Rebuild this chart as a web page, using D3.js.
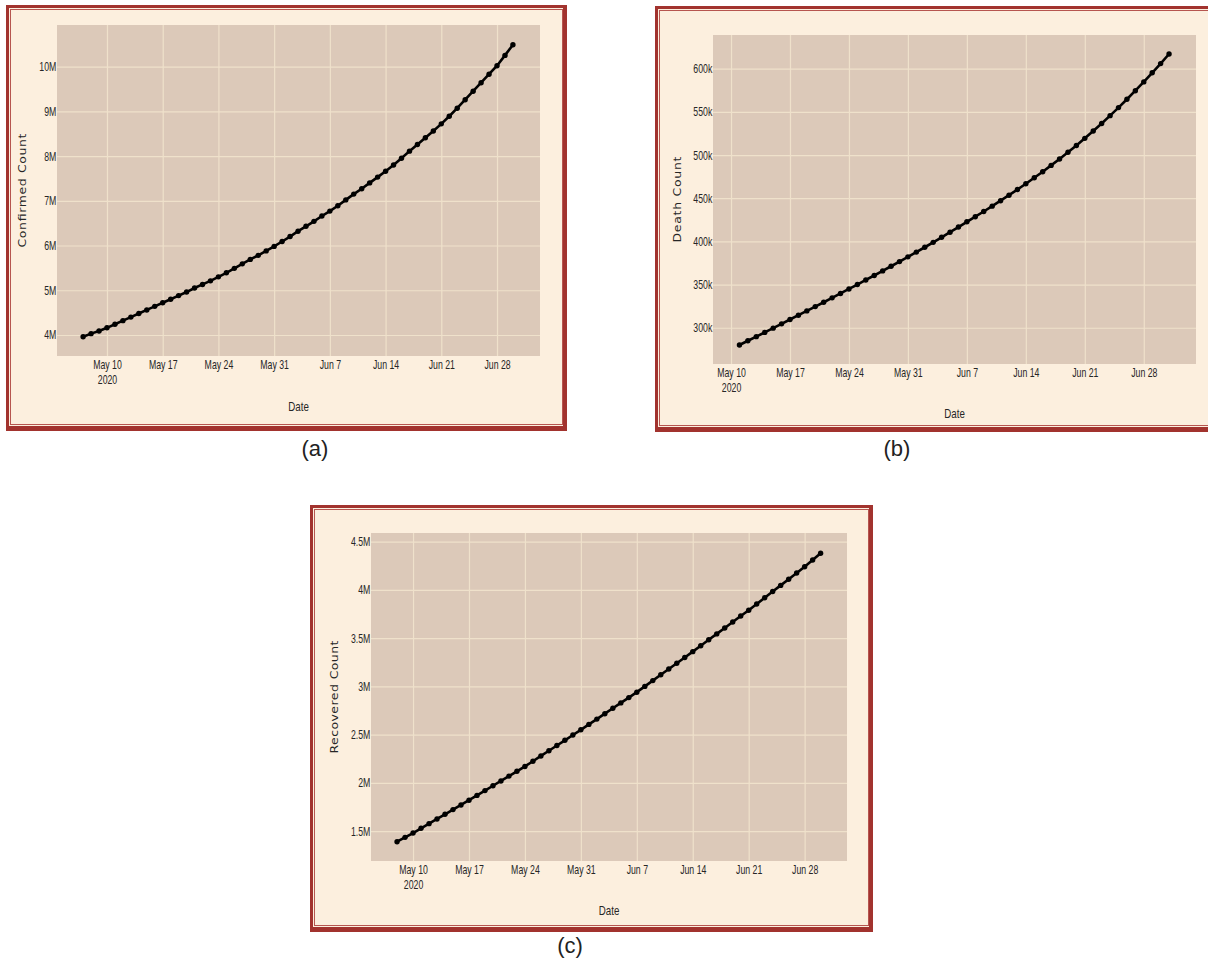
<!DOCTYPE html>
<html>
<head>
<meta charset="utf-8">
<script src="https://cdn.jsdelivr.net/npm/d3@7"></script>
<style>
  body { margin: 0; background: #ffffff; }
  .tick text { font-family: "Liberation Sans", Arial, sans-serif; font-size: 12.5px; fill: #262626; }
</style>
</head>
<body>
<script>
// Data

// (a) confirmed, millions, daily from May 7
const confirmedStart = "2020-05-07";
const confirmedValues = [
  3.96, 4.03, 4.09, 4.16, 4.24, 4.32, 4.40, 4.48, 4.56, 4.64, 4.72,
  4.80, 4.88, 4.96, 5.05, 5.13, 5.21, 5.30, 5.39, 5.49, 5.59, 5.69,
  5.78, 5.88, 5.98, 6.09, 6.20, 6.32, 6.43, 6.54, 6.66, 6.77, 6.89,
  7.02, 7.15, 7.27, 7.40, 7.53, 7.66, 7.80, 7.95, 8.11, 8.26, 8.41,
  8.56, 8.72, 8.89, 9.07, 9.26, 9.45, 9.64, 9.83, 10.02, 10.25, 10.49
];
const confirmedTicks = [4, 5, 6, 7, 8, 9, 10];

// (b) deaths, thousands, daily from May 11
const deathStart = "2020-05-11";
const deathValues = [
  280.0, 284.9, 289.7, 294.6, 299.5, 304.5, 309.5,
  314.5, 319.5, 324.5, 329.5, 334.6, 339.7, 344.9,
  350.0, 355.3, 360.5, 365.8, 371.2, 376.6, 382.1,
  387.6, 393.2, 398.9, 404.7, 410.6, 416.6, 422.7,
  428.6, 434.6, 440.8, 447.1, 453.5, 460.1, 466.8,
  473.7, 480.7, 488.0, 495.4, 503.2, 511.1, 519.3,
  527.8, 536.5, 545.6, 554.9, 564.6, 574.5, 584.7,
  595.2, 605.9, 617.0
];
const deathTicks = [300, 350, 400, 450, 500, 550, 600];

// (c) recovered, millions, daily from May 8
const recoveredStart = "2020-05-08";
const recoveredValues = [
  1.390, 1.435, 1.480, 1.529, 1.577, 1.626, 1.674, 1.723, 1.771, 1.820,
  1.870, 1.920, 1.970, 2.020, 2.070, 2.120, 2.170, 2.224, 2.279, 2.333,
  2.387, 2.441, 2.496, 2.550, 2.606, 2.661, 2.717, 2.773, 2.829, 2.884,
  2.940, 3.000, 3.060, 3.120, 3.180, 3.240, 3.300, 3.360, 3.421, 3.483,
  3.544, 3.606, 3.667, 3.729, 3.790, 3.854, 3.919, 3.983, 4.047, 4.111,
  4.176, 4.240, 4.310, 4.380
];
const recoveredTicks = [1.5, 2, 2.5, 3, 3.5, 4, 4.5];

const dateTicks = ["2020-05-10", "2020-05-17", "2020-05-24", "2020-05-31",
                   "2020-06-07", "2020-06-14", "2020-06-21", "2020-06-28"];

// Layout of the three panels
const panels = [
  { values: confirmedValues, start: confirmedStart, ticks: confirmedTicks, unit: 1e6,
    yDomain: [3.53, 10.93], padL: 3.28, padR: 3.4, yLabel: "Confirmed Count", yLabelLen: 114,
    caption: "(a)", captionX: 315, captionY: 456,
    frame: [6, 5, 567, 431], plot: [57, 25, 540, 356], yLabelX: 22.5, dateY: 411 },
  { values: deathValues, start: deathStart, ticks: deathTicks, unit: 1e3,
    yDomain: [258, 639], padL: 3.14, padR: 3.2, yLabel: "Death Count", yLabelLen: 86,
    caption: "(b)", captionX: 897, captionY: 456,
    frame: [655, 6, 1216, 432], plot: [713, 35, 1196, 364], yLabelX: 677, dateY: 418 },
  { values: recoveredValues, start: recoveredStart, ticks: recoveredTicks, unit: 1e6,
    yDomain: [1.19, 4.59], padL: 3.26, padR: 3.3, yLabel: "Recovered Count", yLabelLen: 113,
    caption: "(c)", captionX: 570, captionY: 953,
    frame: [310, 505, 873, 932], plot: [371, 533, 847, 861], yLabelX: 334, dateY: 915 }
];

const parseDate = d3.timeParse("%Y-%m-%d");
const dayMs = 864e5;
const tickDates = dateTicks.map(parseDate);

const svg = d3.select("body")
  .append("svg")
  .attr("width", 1208)
  .attr("height", 964);

panels.forEach(p => {
  const g = svg.append("g");
  const [fx0, fy0, fx1, fy1] = p.frame;
  const fw = fx1 - fx0, fh = fy1 - fy0;

  // double red frame
  g.append("rect")
    .attr("x", fx0).attr("y", fy0).attr("width", fw).attr("height", fh)
    .attr("fill", "#fcefde");
  g.append("rect")
    .attr("x", fx0 + 1.5).attr("y", fy0 + 1.5).attr("width", fw - 3).attr("height", fh - 3)
    .attr("fill", "none").attr("stroke", "#a2332e").attr("stroke-width", 3);
  g.append("rect")
    .attr("x", fx0).attr("y", fy1 - 5).attr("width", fw).attr("height", 5)
    .attr("fill", "#a2332e");
  g.append("rect")
    .attr("x", fx1 - 4).attr("y", fy0).attr("width", 4).attr("height", fh)
    .attr("fill", "#a2332e");
  g.append("rect")
    .attr("x", fx0 + 4.5).attr("y", fy0 + 4.5).attr("width", fw - 9).attr("height", fh - 11)
    .attr("fill", "none").attr("stroke", "#b6554f").attr("stroke-width", 1);

  const [pl, pt, pr, pb] = p.plot;
  const start = parseDate(p.start);
  const data = p.values.map((v, i) => ({ date: d3.timeDay.offset(start, i), value: v * p.unit }));

  const x = d3.scaleTime()
    .domain([new Date(+data[0].date - p.padL * dayMs),
             new Date(+data[data.length - 1].date + p.padR * dayMs)])
    .range([pl, pr]);
  const y = d3.scaleLinear()
    .domain(p.yDomain.map(v => v * p.unit))
    .range([pb, pt]);
  const yTickValues = p.ticks.map(t => t * p.unit);

  // plot background
  g.append("rect")
    .attr("x", pl).attr("y", pt).attr("width", pr - pl).attr("height", pb - pt)
    .attr("fill", "#dcc9b9");

  // grid
  const xGrid = g.append("g")
    .attr("transform", `translate(0, ${pb})`)
    .call(d3.axisBottom(x).tickValues(tickDates).tickSize(-(pb - pt)).tickFormat(""));
  const yGrid = g.append("g")
    .attr("transform", `translate(${pl}, 0)`)
    .call(d3.axisLeft(y).tickValues(yTickValues).tickSize(-(pr - pl)).tickFormat(""));
  [xGrid, yGrid].forEach(gr => {
    gr.select(".domain").remove();
    gr.selectAll("line").attr("stroke", "#efe1cb").attr("stroke-width", 1.2);
  });

  // axes labels
  const xAxis = g.append("g")
    .attr("transform", `translate(0, ${pb})`)
    .call(d3.axisBottom(x).tickValues(tickDates).tickSize(0).tickPadding(4)
      .tickFormat(d3.timeFormat("%b %-d")));
  xAxis.select(".domain").remove();
  xAxis.selectAll("text").attr("transform", "scale(0.7,1)");
  xAxis.select(".tick text")
    .append("tspan").attr("x", 0).attr("dy", "1.2em").text("2020");

  const yAxis = g.append("g")
    .attr("transform", `translate(${pl}, 0)`)
    .call(d3.axisLeft(y).tickValues(yTickValues).tickSize(0).tickPadding(1)
      .tickFormat(d3.format("~s")));
  yAxis.select(".domain").remove();
  yAxis.selectAll("text").attr("transform", "scale(0.7,1)");

  // line + markers
  const line = d3.line()
    .x(d => x(d.date))
    .y(d => y(d.value));

  g.append("path")
    .datum(data)
    .attr("d", line)
    .attr("fill", "none")
    .attr("stroke", "#000")
    .attr("stroke-width", 2.6);

  g.selectAll(".dot")
    .data(data)
    .enter().append("circle")
    .attr("cx", d => x(d.date))
    .attr("cy", d => y(d.value))
    .attr("r", 2.7)
    .attr("fill", "#000");

  // titles
  g.append("text")
    .attr("transform", `translate(${(pl + pr) / 2}, ${p.dateY}) scale(0.75,1)`)
    .attr("text-anchor", "middle")
    .attr("font-family", "Liberation Sans, Arial, sans-serif")
    .attr("font-size", 13)
    .attr("fill", "#262626")
    .text("Date");

  g.append("text")
    .attr("transform", `translate(${p.yLabelX}, ${(pt + pb) / 2}) rotate(-90) scale(1,0.8)`)
    .attr("text-anchor", "middle")
    .attr("dy", "0.35em")
    .attr("font-family", "DejaVu Sans, sans-serif")
    .attr("font-size", 12.5)
    .attr("textLength", p.yLabelLen)
    .attr("lengthAdjust", "spacing")
    .attr("fill", "#262626")
    .text(p.yLabel);

  svg.append("text")
    .attr("x", p.captionX)
    .attr("y", p.captionY)
    .attr("text-anchor", "middle")
    .attr("font-family", "Liberation Sans, Arial, sans-serif")
    .attr("font-size", 22)
    .attr("fill", "#222")
    .text(p.caption);
});
</script>
</body>
</html>
